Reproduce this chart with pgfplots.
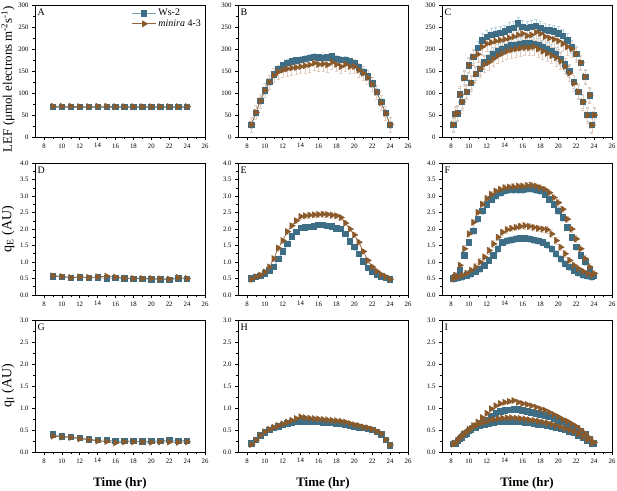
\documentclass[border=0pt]{standalone}
\usepackage{pgfplots}
\pgfplotsset{compat=1.18}
\usepackage{fontspec}
\setmainfont{Liberation Serif}
\definecolor{wsmark}{RGB}{62,110,133}
\definecolor{wsline}{RGB}{120,160,180}
\definecolor{wserr}{RGB}{185,212,226}
\definecolor{mimark}{RGB}{139,90,43}
\definecolor{miline}{RGB}{150,100,60}
\definecolor{mierr}{RGB}{228,205,190}
\tikzset{letter/.style={anchor=north west, font=\fontsize{10}{10}\selectfont, inner sep=1bp, xshift=1.5bp, yshift=-2.5bp}}
\pgfplotsset{
  panel/.style={scale only axis, width=170bp, height=132bp, xmin=7, xmax=26,
    xtick={8,10,...,26}, minor x tick num=1, tick align=outside, tick pos=left,
    axis line style={black, line width=0.6pt}, tick style={black, line width=0.5pt},
    major tick length=3bp, minor tick length=1.8bp,
    ticklabel style={font=\fontsize{6.8}{7}\selectfont},
    /pgf/number format/assume math mode=true,
    ylabel style={font=\fontsize{14}{15}\selectfont, at={(axis description cs:-0.159,0.5)}, anchor=center},
    xlabel style={font=\fontsize{13}{14}\selectfont\bfseries, at={(axis description cs:0.5,-0.235)}, anchor=center}},
  lef/.style={ymin=0, ymax=300, ytick={0,50,...,300}, minor y tick num=1},
  qe/.style={ymin=0, ymax=4, ytick={0,0.5,...,4}, minor y tick num=1,
    yticklabel style={/pgf/number format/.cd, fixed, fixed zerofill, precision=1}},
  qi/.style={ymin=0, ymax=3, ytick={0,0.5,...,3}, minor y tick num=1,
    yticklabel style={/pgf/number format/.cd, fixed, fixed zerofill, precision=1}},
  ws/.style={color=wsline, line width=0.7pt, mark=square*, mark size=2.7bp,
    mark options={solid, fill=wsmark, draw=wsmark},
    error bars/y dir=both, error bars/y fixed=#1,
    error bars/error bar style={color=wserr, line width=0.4pt},
    error bars/error mark options={rotate=90, mark size=1.5bp, color=wserr}},
  mi/.style={color=miline, line width=0.7pt, mark=triangle*, mark size=3.4bp,
    mark options={solid, rotate=-90, fill=mimark, draw=mimark},
    error bars/y dir=both, error bars/y fixed=#1,
    error bars/error bar style={color=mierr, line width=0.4pt},
    error bars/error mark options={rotate=90, mark size=1.5bp, color=mierr}},
}
\begin{document}
\begin{tikzpicture}
\useasboundingbox (0,0) rectangle (617bp,491bp);
% ---------- A ----------
\begin{axis}[panel, lef, at={(35bp,354bp)},
  ylabel={LEF (μmol electrons m\textsuperscript{-2}s\textsuperscript{-1})},
  ylabel style={font=\fontsize{13}{14}\selectfont, at={(axis description cs:-0.159,0.44)}},
  legend style={at={(1,1)}, anchor=north east, draw=none, fill=none, font=\fontsize{10}{11}\selectfont, inner sep=1bp, row sep=-1.5bp, xshift=-1bp, yshift=-1bp},
  legend cell align=left,
  legend image code/.code={\draw[mark repeat=2,mark phase=2,#1] plot coordinates {(0bp,0bp) (12bp,0bp) (24bp,0bp)};}]
\addplot[ws=3] coordinates {(9,68)(10,68)(11,68)(12,68)(13,68)(14,68)(15,68)(16,68)(17,68)(18,68)(19,68)(20,68)(21,68)(22,68)(23,68)(24,68)};
\addplot[mi=3] coordinates {(9,70)(10,70)(11,70)(12,69)(13,69)(14,70)(15,70)(16,69)(17,69)(18,69)(19,69)(20,69)(21,69)(22,69)(23,69)(24,69)};
\legend{Ws-2, \textit{minira} 4-3}
\node[letter] at (rel axis cs:0,1) {A};
\end{axis}
% ---------- B ----------
\begin{axis}[panel, lef, at={(238bp,354bp)}]
\addplot[ws=8] coordinates {(8.5,28)(9,55)(9.5,82)(10,106)(10.5,125)(11,142)(11.5,155)(12,163)(12.5,168)(13,172)(13.5,174)(14,176)(14.5,178)(15,180)(15.5,182)(16,181)(16.5,180)(17,181)(17.5,183)(18,178)(18.5,175)(19,176)(19.5,172)(20,168)(20.5,158)(21,148)(21.5,138)(22,122)(22.5,102)(23,80)(23.5,55)(24,28)};
\addplot[mi=16] coordinates {(8.5,28)(9,56)(9.5,82)(10,106)(10.5,125)(11,140)(11.5,148)(12,152)(12.5,155)(13,157)(13.5,158)(14,160)(14.5,162)(15,164)(15.5,168)(16,165)(16.5,166)(17,164)(17.5,170)(18,165)(18.5,160)(19,165)(19.5,160)(20,160)(20.5,152)(21,145)(21.5,135)(22,120)(22.5,102)(23,78)(23.5,54)(24,28)};
\node[letter] at (rel axis cs:0,1) {B};
\end{axis}
% ---------- C ----------
\begin{axis}[panel, lef, at={(442bp,354bp)}]
\addplot[ws=15, only marks] coordinates {(8.5,52)(9,97)(9.5,134)(10,163)(10.5,182)(11,203)(11.5,220)(12,228)(12.5,232)(13,235)(13.5,237)(14,240)(14.5,245)(15,248)(15.5,258)(16,250)(16.5,248)(17,250)(17.5,252)(18,248)(18.5,244)(19,242)(19.5,240)(20,236)(20.5,230)(21,220)(21.5,205)(22,189)(22.5,169)(23,137)(23.5,95)(24,50)};
\addplot[ws=15, only marks] coordinates {(8.25,28)(8.75,54)(9.25,80)(9.75,103)(10.25,123)(10.75,143)(11.25,155)(11.75,170)(12.25,180)(12.75,188)(13.25,195)(13.75,200)(14.25,205)(14.75,208)(15.25,210)(15.75,212)(16.25,213)(16.75,213)(17.25,212)(17.75,210)(18.25,205)(18.75,200)(19.25,195)(19.75,188)(20.25,178)(20.75,165)(21.25,150)(21.75,125)(22.25,103)(22.75,80)(23.25,50)(23.75,27)};
\addplot[mi=18, only marks] coordinates {(8.5,52)(9,97)(9.5,134)(10,163)(10.5,182)(11,188)(11.5,205)(12,212)(12.5,215)(13,218)(13.5,220)(14,222)(14.5,225)(15,228)(15.5,232)(16,235)(16.5,230)(17,232)(17.5,238)(18,235)(18.5,228)(19,225)(19.5,222)(20,218)(20.5,212)(21,205)(21.5,200)(22,189)(22.5,169)(23,137)(23.5,95)(24,50)};
\addplot[mi=18, only marks] coordinates {(8.25,28)(8.75,54)(9.25,80)(9.75,103)(10.25,123)(10.75,143)(11.25,155)(11.75,165)(12.25,170)(12.75,178)(13.25,185)(13.75,190)(14.25,195)(14.75,198)(15.25,200)(15.75,202)(16.25,203)(16.75,203)(17.25,205)(17.75,200)(18.25,195)(18.75,190)(19.25,185)(19.75,180)(20.25,172)(20.75,160)(21.25,145)(21.75,122)(22.25,103)(22.75,80)(23.25,50)(23.75,27)};
\node[letter] at (rel axis cs:0,1) {C};
\end{axis}
% ---------- D ----------
\begin{axis}[panel, qe, at={(35bp,196bp)}, ylabel={q\textsubscript{E} (AU)}]
\addplot[ws=0.04] coordinates {(9,0.57)(10,0.55)(11,0.52)(12,0.54)(13,0.52)(14,0.53)(15,0.50)(16,0.52)(17,0.50)(18,0.49)(19,0.49)(20,0.48)(21,0.48)(22,0.46)(23,0.50)(24,0.49)};
\addplot[mi=0.04] coordinates {(9,0.58)(10,0.56)(11,0.53)(12,0.55)(13,0.53)(14,0.55)(15,0.57)(16,0.54)(17,0.51)(18,0.50)(19,0.50)(20,0.50)(21,0.49)(22,0.48)(23,0.53)(24,0.50)};
\node[letter] at (rel axis cs:0,1) {D};
\end{axis}
% ---------- E ----------
\begin{axis}[panel, qe, at={(238bp,196bp)}]
\addplot[ws=0.08] coordinates {(8.5,0.50)(9,0.55)(9.5,0.58)(10,0.65)(10.5,0.75)(11,0.85)(11.5,1.1)(12,1.32)(12.5,1.55)(13,1.78)(13.5,1.92)(14,2.03)(14.5,2.05)(15,2.06)(15.5,2.08)(16,2.12)(16.5,2.12)(17,2.1)(17.5,2.08)(18,2.02)(18.5,2.0)(19,1.85)(19.5,1.62)(20,1.45)(20.5,1.25)(21,1.02)(21.5,0.82)(22,0.7)(22.5,0.62)(23,0.57)(23.5,0.52)(24,0.48)};
\addplot[mi=0.08] coordinates {(8.5,0.48)(9,0.55)(9.5,0.6)(10,0.7)(10.5,0.85)(11,1.1)(11.5,1.42)(12,1.65)(12.5,1.92)(13,2.1)(13.5,2.25)(14,2.38)(14.5,2.4)(15,2.42)(15.5,2.43)(16,2.44)(16.5,2.45)(17,2.44)(17.5,2.42)(18,2.4)(18.5,2.35)(19,2.18)(19.5,2.0)(20,1.82)(20.5,1.6)(21,1.32)(21.5,1.05)(22,0.85)(22.5,0.72)(23,0.62)(23.5,0.55)(24,0.48)};
\node[letter] at (rel axis cs:0,1) {E};
\end{axis}
% ---------- F ----------
\begin{axis}[panel, qe, at={(442bp,196bp)}]
\addplot[ws=0.1, only marks] coordinates {(8.5,0.55)(9,0.75)(9.5,1.2)(10,1.6)(10.5,1.95)(11,2.3)(11.5,2.55)(12,2.75)(12.5,2.9)(13,3.0)(13.5,3.1)(14,3.15)(14.5,3.18)(15,3.2)(15.5,3.2)(16,3.2)(16.5,3.22)(17,3.22)(17.5,3.2)(18,3.15)(18.5,3.05)(19,2.9)(19.5,2.75)(20,2.55)(20.5,2.35)(21,2.05)(21.5,1.75)(22,1.45)(22.5,1.2)(23,1.0)(23.5,0.8)(24,0.6)};
\addplot[ws=0.1, only marks] coordinates {(8.25,0.5)(8.75,0.52)(9.25,0.55)(9.75,0.6)(10.25,0.65)(10.75,0.72)(11.25,0.8)(11.75,0.9)(12.25,1.05)(12.75,1.2)(13.25,1.4)(13.75,1.6)(14.25,1.65)(14.75,1.68)(15.25,1.7)(15.75,1.72)(16.25,1.72)(16.75,1.7)(17.25,1.68)(17.75,1.65)(18.25,1.6)(18.75,1.52)(19.25,1.4)(19.75,1.25)(20.25,1.1)(20.75,0.95)(21.25,0.85)(21.75,0.75)(22.25,0.68)(22.75,0.62)(23.25,0.58)(23.75,0.55)};
\addplot[mi=0.1, only marks] coordinates {(8.5,0.6)(9,0.9)(9.5,1.4)(10,1.85)(10.5,2.2)(11,2.5)(11.5,2.75)(12,2.92)(12.5,3.05)(13,3.15)(13.5,3.2)(14,3.25)(14.5,3.27)(15,3.28)(15.5,3.3)(16,3.3)(16.5,3.32)(17,3.33)(17.5,3.3)(18,3.25)(18.5,3.2)(19,3.1)(19.5,2.95)(20,2.8)(20.5,2.6)(21,2.3)(21.5,2.0)(22,1.7)(22.5,1.4)(23,1.1)(23.5,0.85)(24,0.65)};
\addplot[mi=0.1, only marks] coordinates {(8.25,0.5)(8.75,0.55)(9.25,0.6)(9.75,0.66)(10.25,0.75)(10.75,0.85)(11.25,1.0)(11.75,1.15)(12.25,1.35)(12.75,1.55)(13.25,1.75)(13.75,1.9)(14.25,1.98)(14.75,2.02)(15.25,2.05)(15.75,2.08)(16.25,2.1)(16.75,2.08)(17.25,2.05)(17.75,2.02)(18.25,2.0)(18.75,1.98)(19.25,1.85)(19.75,1.65)(20.25,1.45)(20.75,1.25)(21.25,1.05)(21.75,0.9)(22.25,0.8)(22.75,0.72)(23.25,0.65)(23.75,0.6)};
\node[letter] at (rel axis cs:0,1) {F};
\end{axis}
% ---------- G ----------
\begin{axis}[panel, qi, at={(35bp,39bp)}, ylabel={q\textsubscript{I} (AU)}, xlabel={Time (hr)}]
\addplot[ws=0.03] coordinates {(9,0.40)(10,0.36)(11,0.34)(12,0.32)(13,0.29)(14,0.27)(15,0.27)(16,0.25)(17,0.25)(18,0.25)(19,0.24)(20,0.25)(21,0.25)(22,0.28)(23,0.26)(24,0.26)};
\addplot[mi=0.03] coordinates {(9,0.36)(10,0.34)(11,0.33)(12,0.30)(13,0.28)(14,0.25)(15,0.24)(16,0.21)(17,0.23)(18,0.23)(19,0.23)(20,0.22)(21,0.23)(22,0.23)(23,0.22)(24,0.23)};
\node[letter] at (rel axis cs:0,1) {G};
\end{axis}
% ---------- H ----------
\begin{axis}[panel, qi, at={(238bp,39bp)}, xlabel={Time (hr)}]
\addplot[ws=0.03] coordinates {(8.5,0.2)(9,0.28)(9.5,0.38)(10,0.45)(10.5,0.5)(11,0.55)(11.5,0.58)(12,0.62)(12.5,0.65)(13,0.67)(13.5,0.68)(14,0.7)(14.5,0.7)(15,0.69)(15.5,0.68)(16,0.68)(16.5,0.67)(17,0.67)(17.5,0.66)(18,0.65)(18.5,0.64)(19,0.63)(19.5,0.6)(20,0.58)(20.5,0.56)(21,0.55)(21.5,0.52)(22,0.5)(22.5,0.46)(23,0.4)(23.5,0.28)(24,0.15)};
\addplot[mi=0.03] coordinates {(8.5,0.17)(9,0.27)(9.5,0.38)(10,0.46)(10.5,0.52)(11,0.56)(11.5,0.6)(12,0.64)(12.5,0.68)(13,0.72)(13.5,0.76)(14,0.8)(14.5,0.78)(15,0.77)(15.5,0.76)(16,0.75)(16.5,0.74)(17,0.73)(17.5,0.72)(18,0.71)(18.5,0.7)(19,0.68)(19.5,0.65)(20,0.62)(20.5,0.6)(21,0.57)(21.5,0.55)(22,0.52)(22.5,0.47)(23,0.42)(23.5,0.28)(24,0.16)};
\node[letter] at (rel axis cs:0,1) {H};
\end{axis}
% ---------- I ----------
\begin{axis}[panel, qi, at={(442bp,39bp)}, xlabel={Time (hr)}]
\addplot[ws=0.04, only marks] coordinates {(8.5,0.2)(9,0.3)(9.5,0.4)(10,0.48)(10.5,0.55)(11,0.6)(11.5,0.66)(12,0.72)(12.5,0.82)(13,0.88)(13.5,0.92)(14,0.95)(14.5,0.96)(15,0.97)(15.5,0.97)(16,0.95)(16.5,0.92)(17,0.9)(17.5,0.88)(18,0.86)(18.5,0.83)(19,0.8)(19.5,0.75)(20,0.72)(20.5,0.68)(21,0.64)(21.5,0.6)(22,0.55)(22.5,0.48)(23,0.4)(23.5,0.3)(24,0.2)};
\addplot[ws=0.04, only marks] coordinates {(8.25,0.18)(8.75,0.25)(9.25,0.33)(9.75,0.42)(10.25,0.5)(10.75,0.56)(11.25,0.6)(11.75,0.63)(12.25,0.65)(12.75,0.67)(13.25,0.68)(13.75,0.69)(14.25,0.7)(14.75,0.7)(15.25,0.69)(15.75,0.68)(16.25,0.67)(16.75,0.66)(17.25,0.65)(17.75,0.63)(18.25,0.62)(18.75,0.6)(19.25,0.58)(19.75,0.56)(20.25,0.53)(20.75,0.5)(21.25,0.47)(21.75,0.43)(22.25,0.38)(22.75,0.32)(23.25,0.26)(23.75,0.2)};
\addplot[mi=0.04, only marks] coordinates {(8.5,0.2)(9,0.32)(9.5,0.42)(10,0.52)(10.5,0.6)(11,0.68)(11.5,0.78)(12,0.88)(12.5,0.98)(13,1.05)(13.5,1.1)(14,1.13)(14.5,1.15)(15,1.17)(15.5,1.13)(16,1.1)(16.5,1.08)(17,1.05)(17.5,1.02)(18,0.98)(18.5,0.95)(19,0.9)(19.5,0.85)(20,0.8)(20.5,0.74)(21,0.7)(21.5,0.64)(22,0.58)(22.5,0.5)(23,0.42)(23.5,0.32)(24,0.22)};
\addplot[mi=0.04, only marks] coordinates {(8.25,0.18)(8.75,0.27)(9.25,0.36)(9.75,0.45)(10.25,0.53)(10.75,0.6)(11.25,0.65)(11.75,0.68)(12.25,0.72)(12.75,0.74)(13.25,0.76)(13.75,0.77)(14.25,0.78)(14.75,0.78)(15.25,0.77)(15.75,0.76)(16.25,0.75)(16.75,0.73)(17.25,0.72)(17.75,0.7)(18.25,0.68)(18.75,0.66)(19.25,0.63)(19.75,0.6)(20.25,0.57)(20.75,0.54)(21.25,0.5)(21.75,0.46)(22.25,0.41)(22.75,0.35)(23.25,0.28)(23.75,0.22)};
\node[letter] at (rel axis cs:0,1) {I};
\end{axis}
\end{tikzpicture}
\end{document}
